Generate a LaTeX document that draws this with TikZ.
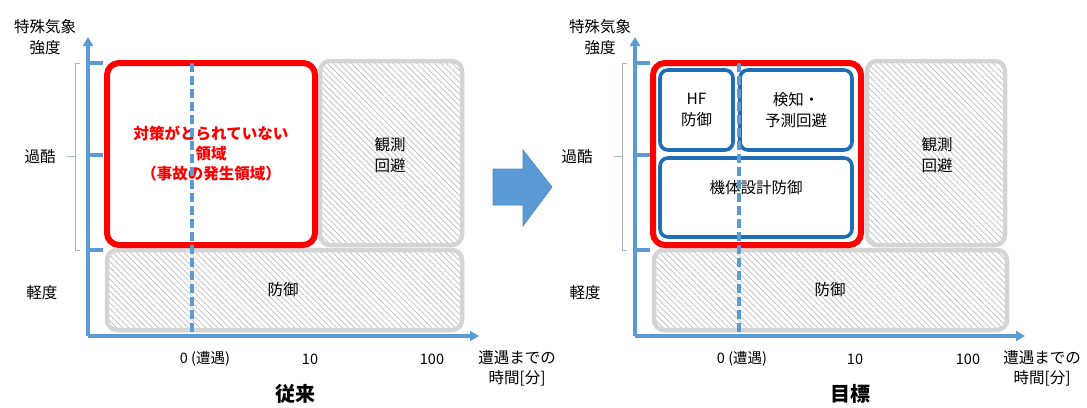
\documentclass[tikz,border=0pt]{standalone}
\usepackage{fontspec}
\setmainfont{Noto Sans CJK JP}
\usetikzlibrary{patterns.meta,arrows.meta}
\definecolor{axisblue}{HTML}{5B9BD5}
\definecolor{boxblue}{HTML}{1F6DB5}
\definecolor{hatchgray}{HTML}{BDBDBD}
\definecolor{bordergray}{HTML}{D4D4D4}
\definecolor{brk}{HTML}{A9B4C2}
\definecolor{arrowedge}{HTML}{4A86C0}
\begin{document}
\begin{tikzpicture}[x=1pt,y=-1pt,
  lbl/.style={font=\fontsize{15.5}{21}\selectfont, align=center, inner sep=0pt},
  numlbl/.style={font=\fontsize{14.5}{18}\selectfont, inner sep=0pt},
  titlelbl/.style={font=\fontsize{20}{24}\selectfont\bfseries, inner sep=0pt},
  redtxt/.style={font=\fontsize{15.5}{20}\selectfont\bfseries, text=red, align=center, inner sep=0pt},
  graybox/.style={draw=bordergray, line width=4.5pt, rounded corners=10pt,
    preaction={fill=white}, pattern={Lines[angle=-45,distance=4.2pt,line width=0.7pt]}, pattern color=hatchgray},
  redbox/.style={draw=red, line width=6pt, rounded corners=12pt, fill=white},
  bluebox/.style={draw=boxblue, line width=3.6pt, rounded corners=8pt, fill=white},
  axisline/.style={draw=axisblue, line width=3.5pt, -{Triangle[width=10pt,length=9pt]}},
  tickline/.style={draw=axisblue, line width=3.5pt},
  vdash/.style={draw=axisblue, line width=3.4pt, dash pattern=on 9pt off 4pt},
  bracket/.style={draw=brk, line width=1pt},
]
\useasboundingbox (0,0) rectangle (1087,407);

% ================= LEFT PANEL =================
\path[graybox] (107,250) rectangle (462,330);
\path[graybox] (320,61) rectangle (462,245);
\path[redbox] (107,63) rectangle (315,245);
\node[lbl] (L-obs) at (390,155) {観測\\回避};
\node[lbl] (L-def) at (283,290) {防御};
\node[redtxt] (L-red) at (211,153) {対策がとられていない\\領域\\（事故の発生領域）};
% axes
\coordinate (L-o) at (88,336);
\coordinate (L-ytip) at (88,37);
\coordinate (L-xtip) at (479,336);
\draw[axisline] (L-o) -- (L-ytip);
\draw[axisline] (L-o) -- (L-xtip);
\coordinate (L-t1) at (88,63);
\coordinate (L-t2) at (88,155);
\coordinate (L-t3) at (88,250);
\draw[tickline] (L-t1) -- ++(15,0);
\draw[tickline] (L-t2) -- ++(15,0);
\draw[tickline] (L-t3) -- ++(15,0);
\coordinate (L-d0) at (192,63);
\coordinate (L-d1) at (192,336);
\draw[vdash] (L-d0) -- (L-d1);
% bracket
\coordinate (L-b0) at (80,63);
\coordinate (L-b1) at (80,250);
\draw[bracket] (L-b0) -- ++(-5,0) -- ++(0,187) -- (L-b1);
\draw[bracket] (75,156) -- (67,156);
% labels
\node[lbl] (L-yl) at (45,37) {特殊気象\\強度};
\node[lbl] (L-sev) at (40,157) {過酷};
\node[lbl] (L-mild) at (42,293) {軽度};
\node[numlbl] (L-x0) at (205,359) {0 (遭遇)};
\node[numlbl] (L-x10) at (310,359) {10};
\node[numlbl] (L-x100) at (432,359) {100};
\node[lbl, font=\fontsize{15.5}{20}\selectfont] (L-xl) at (517,368) {遭遇までの\\時間[分]};
\node[titlelbl] (L-title) at (295,394) {従来};

% ================= ARROW =================
\path[fill=axisblue, draw=arrowedge, line width=0.6pt]
  (493,169) -- (523,169) -- (523,150) -- (552,187) -- (523,226) -- (523,205) -- (493,205) -- cycle;

% ================= RIGHT PANEL =================
\path[graybox] (654,250) rectangle (1007,330);
\path[graybox] (867,61) rectangle (1005,245);
\path[redbox] (653,63) rectangle (861,245);
\draw[white, line width=1.4pt, dash pattern=on 4pt off 2pt, rounded corners=9pt] (657.5,67.5) rectangle (856.5,240.5);
\node[bluebox, minimum width=73pt, minimum height=80pt] (R-hf) at (696.5,110) {};
\node[bluebox, minimum width=112pt, minimum height=80pt] (R-det) at (796,110) {};
\node[bluebox, minimum width=192pt, minimum height=79pt] (R-body) at (756,197.5) {};
\node[lbl] at (R-hf) {HF\\防御};
\node[lbl] at (R-det) {検知・\\予測回避};
\node[lbl] at ([yshift=10pt]R-body) {機体設計防御};
\node[lbl] (R-obs) at (937,155) {観測\\回避};
\node[lbl] (R-def) at (830,290) {防御};
% axes
\coordinate (R-o) at (635,336);
\coordinate (R-ytip) at (635,37);
\coordinate (R-xtip) at (1025,336);
\draw[axisline] (R-o) -- (R-ytip);
\draw[axisline] (R-o) -- (R-xtip);
\draw[tickline] (635,63) -- ++(15,0);
\draw[tickline] (635,155) -- ++(15,0);
\draw[tickline] (635,250) -- ++(15,0);
\coordinate (R-d0) at (739,63);
\coordinate (R-d1) at (739,336);
\draw[vdash] (R-d0) -- (R-d1);
% bracket
\draw[bracket] (627,63) -- ++(-5,0) -- ++(0,187) -- ++(5,0);
\draw[bracket] (622,156) -- (614,156);
% labels
\node[lbl] (R-yl) at (600,37) {特殊気象\\強度};
\node[lbl] (R-sev) at (577,157) {過酷};
\node[lbl] (R-mild) at (585,293) {軽度};
\node[numlbl] (R-x0) at (742,359) {0 (遭遇)};
\node[numlbl] (R-x10) at (855,359) {10};
\node[numlbl] (R-x100) at (968,359) {100};
\node[lbl, font=\fontsize{15.5}{20}\selectfont] (R-xl) at (1042,368) {遭遇までの\\時間[分]};
\node[titlelbl] (R-title) at (850,394) {目標};
\end{tikzpicture}
\end{document}
